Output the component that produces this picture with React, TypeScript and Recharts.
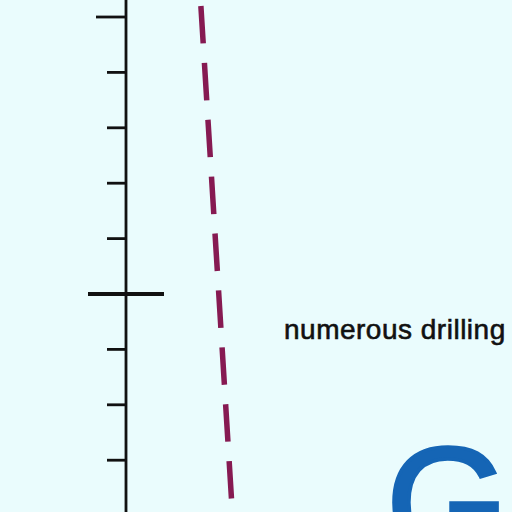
import { LineChart, Line, XAxis, YAxis } from "recharts"

// depth ticks along the log axis (one per metre, heavy mark every 5)
const depthTicks = [0, 1, 2, 3, 4, 5, 6, 7, 8, 9]
const depthDomain = [-0.307, 8.935]

// dashed trend line: depth vs log value
const trendDepth = [-0.199, 8.72]
const trendValue = [19.4, 27.35]

const valueDomain = [0, 100]

const annotationText = "numerous drilling"
const logoLetter = "G"

const data = trendDepth.map((d, i) => ({ depth: d, val: trendValue[i] }))

const DepthTick = (props: any) => {
    const { x, y, payload } = props
    if (payload.value === 5) {
        return <line x1={x - 38} x2={x + 38} y1={y} y2={y} stroke="#111" strokeWidth={4} />
    }
    const len = payload.value === 0 ? 30 : 19
    return <line x1={x - len} x2={x} y1={y} y2={y} stroke="#111" strokeWidth={2.8} />
}

export default function App() {
    return (
        <div
            style={{
                position: "absolute",
                left: 0,
                top: 0,
                width: 512,
                height: 512,
                background: "#EAFCFD",
                overflow: "hidden",
            }}
        >
            <LineChart
                width={512}
                height={512}
                data={data}
                margin={{ top: 0, right: 0, bottom: 0, left: 0 }}
            >
                <XAxis type="number" dataKey="val" domain={valueDomain} allowDataOverflow hide />
                <YAxis
                    type="number"
                    domain={depthDomain}
                    allowDataOverflow
                    reversed
                    ticks={depthTicks}
                    interval={0}
                    width={126}
                    tickSize={0}
                    tickMargin={0}
                    tickLine={false}
                    axisLine={{ stroke: "#111", strokeWidth: 2.8 }}
                    tick={<DepthTick />}
                />
                <Line
                    dataKey="depth"
                    type="linear"
                    stroke="#861A52"
                    strokeWidth={5.5}
                    strokeDasharray="37.5 19.5"
                    dot={false}
                    activeDot={false}
                    isAnimationActive={false}
                />
            </LineChart>
            <svg
                width={512}
                height={512}
                style={{ position: "absolute", left: 0, top: 0, pointerEvents: "none" }}
            >
                <text
                    x={284}
                    y={339}
                    fontFamily="'Liberation Sans', Arial, sans-serif"
                    fontSize={28}
                    letterSpacing={0.5}
                    fill="#111"
                    stroke="#111"
                    strokeWidth={0.6}
                >
                    {annotationText}
                </text>
                <text
                    x={386}
                    y={557}
                    fontFamily="'Liberation Sans', Arial, sans-serif"
                    fontSize={158}
                    fill="#1565B5"
                    stroke="#1565B5"
                    strokeWidth={3.5}
                >
                    {logoLetter}
                </text>
            </svg>
        </div>
    )
}
